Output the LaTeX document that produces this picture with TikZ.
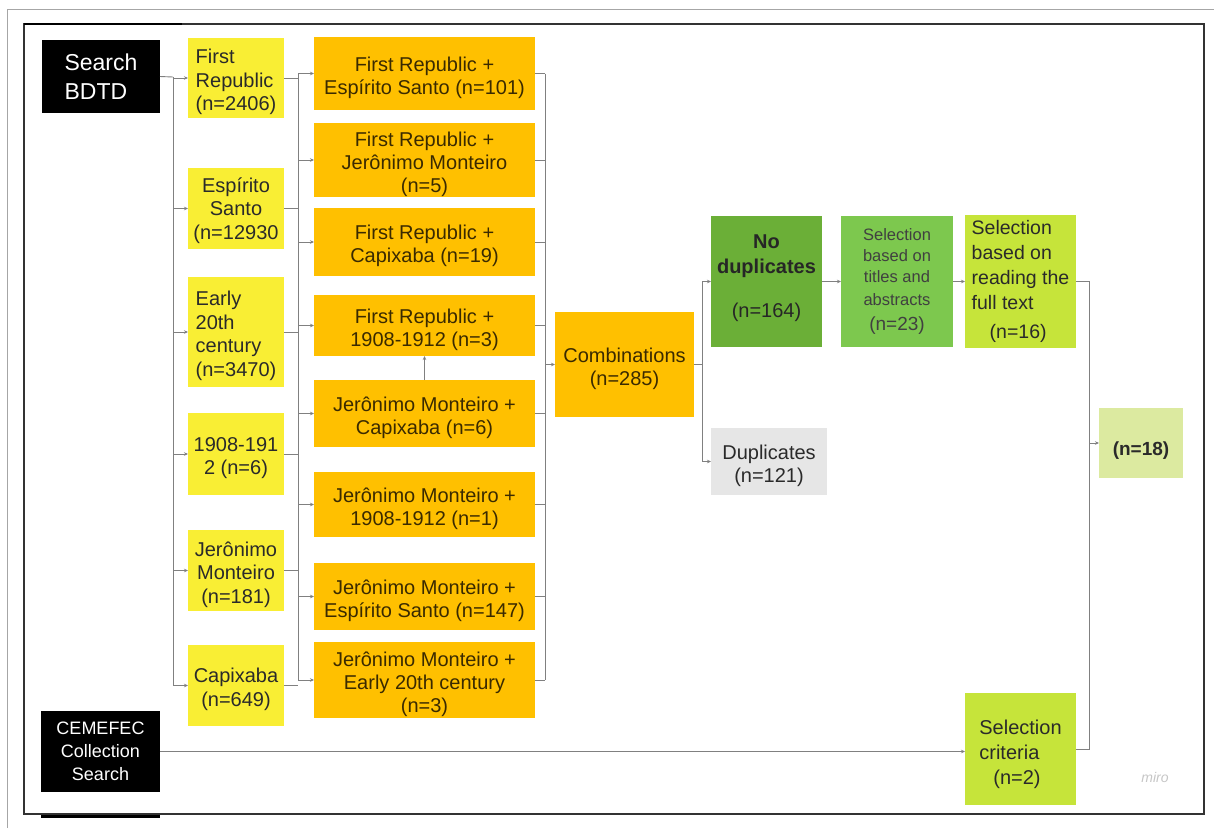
\documentclass[tikz,border=0pt]{standalone}
\usepackage{fontspec}
\setmainfont{Liberation Sans}
\usetikzlibrary{arrows.meta}
\definecolor{yel}{HTML}{F9EE34}
\definecolor{org}{HTML}{FFC000}
\definecolor{dgreen}{HTML}{6BAF37}
\definecolor{mgreen}{HTML}{7DC84E}
\definecolor{ygreen}{HTML}{C6E43A}
\definecolor{pgreen}{HTML}{DCEAA0}
\definecolor{lgray}{HTML}{E6E6E6}
\definecolor{ink}{HTML}{2A2A2A}
\definecolor{brown}{HTML}{3A2A00}
\definecolor{lin}{HTML}{808080}
\newcommand\lift[1][22.5pt]{\rule{0pt}{#1}}
\begin{document}
\begin{tikzpicture}[x=1pt,y=-1pt,
  box/.style={inner sep=0pt, outer sep=0pt, text=ink},
  blk/.style={box, fill=black, text=white},
  yb/.style={box, fill=yel, minimum width=96, font=\fontsize{20}{23.5}\selectfont},
  ob/.style={box, fill=org, text=brown, minimum width=221, align=center, font=\fontsize{20}{23}\selectfont},
  line/.style={draw=lin, line width=0.9pt},
  conn/.style={line, -{Stealth[length=4pt,width=3.5pt]}}]
\useasboundingbox (0,0) rectangle (1214,828);
% frames
\draw[gray!70, line width=1pt] (7,828) -- (7,9) -- (1214,9);
\draw[black!80, line width=1.3pt] (24,24) rectangle (1204,814);
\draw[black, line width=2.5pt] (24,24) -- (182,24);
\draw[black, line width=3pt] (41,816) -- (160,816);
% sources
\node[blk, minimum width=118, minimum height=73, align=left, font=\fontsize{23}{29}\selectfont] (sb) at (101,76.5) {Search\\BDTD};
\node[blk, minimum width=119, minimum height=81, align=center, font=\fontsize{18}{23}\selectfont] (cem) at (100.5,751.5) {CEMEFEC\\Collection\\Search};
% level 1
\node[yb, minimum height=80, align=left] (fr) at (236,78) {\lift First\\Republic\\(n=2406)};
\node[yb, minimum height=81, align=center] (es) at (236,208.5) {\lift[19pt]Espírito\\Santo\\(n=12930};
\node[yb, minimum height=110, align=left] (ea) at (236,332) {\lift Early\\20th\\century\\(n=3470)};
\node[yb, minimum height=82, align=center] (yr) at (236,454) {\lift 1908-191\\2 (n=6)};
\node[yb, minimum height=81, align=center] (jm) at (236,570.5) {\lift Jerônimo\\Monteiro\\(n=181)};
\node[yb, minimum height=81, align=center] (cp) at (236,685.5) {\lift Capixaba\\(n=649)};
% level 2
\node[ob, minimum height=73] (o1) at (424.5,73.5) {\lift First Republic +\\Espírito Santo (n=101)};
\node[ob, minimum height=74] (o2) at (424.5,160) {\lift First Republic +\\Jerônimo Monteiro\\(n=5)};
\node[ob, minimum height=68] (o3) at (424.5,242) {\lift First Republic +\\Capixaba (n=19)};
\node[ob, minimum height=61] (o4) at (424.5,325.5) {\lift First Republic +\\1908-1912 (n=3)};
\node[ob, minimum height=67] (o5) at (424.5,413.5) {\lift Jerônimo Monteiro +\\Capixaba (n=6)};
\node[ob, minimum height=65] (o6) at (424.5,504.5) {\lift Jerônimo Monteiro +\\1908-1912 (n=1)};
\node[ob, minimum height=67] (o7) at (424.5,596.5) {\lift Jerônimo Monteiro +\\Espírito Santo (n=147)};
\node[ob, minimum height=76] (o8) at (424.5,680) {\lift Jerônimo Monteiro +\\Early 20th century\\(n=3)};
% level 3+
\node[ob, minimum width=139, minimum height=105] (comb) at (624.5,364.5) {\lift Combinations\\(n=285)};
\node[box, fill=dgreen, text=black!85, minimum width=111, minimum height=131, align=center, font=\fontsize{20}{25}\selectfont] (nd) at (766.5,281.5) {\textbf{No}\\\textbf{duplicates}\\[19pt](n=164)\rule[-11pt]{0pt}{11pt}};
\node[box, fill=lgray, minimum width=116, minimum height=67, align=center, font=\fontsize{20}{23}\selectfont] (dup) at (769,461.5) {\lift Duplicates\\(n=121)};
\node[box, fill=mgreen, text=black!75, minimum width=112, minimum height=131, align=center, font=\fontsize{16.5}{21}\selectfont] (ta) at (897,281.5) {Selection\\based on\\titles and\\[2pt]abstracts\\[4pt]{\fontsize{19}{25}\selectfont (n=23)}};
\node[box, fill=ygreen, minimum width=111, minimum height=133, align=left, font=\fontsize{19.5}{25}\selectfont] (ft) at (1020.5,281.5) {Selection\\based on\\reading the\\full text\\[4pt]\hspace*{18pt}(n=16)};
\node[box, fill=pgreen, minimum width=84, minimum height=70, font=\bfseries\fontsize{19}{23}\selectfont] (n18) at (1141,443) {\lift[28pt](n=18)};
\node[box, fill=ygreen, minimum width=111, minimum height=112, align=left, font=\fontsize{20}{25}\selectfont] (cr) at (1020.5,749) {\lift[25pt]Selection\\criteria\\\hspace*{14pt}(n=2)};
\node[text=gray!45, font=\itshape\fontsize{14}{14}\selectfont] (miro) at (1155,777) {miro};
% trunk 1
\coordinate (t1) at (173,77);
\draw[line] (sb.east) -- (t1);
\draw[conn] (t1) |- (fr.west);
\foreach \n in {es,ea,yr,jm,cp} \draw[conn] (t1) |- (\n.west);
% trunk 2
\coordinate (t2a) at (298,73.5);
\coordinate (t2b) at (298,680);
\draw[line] (t2a) -- (t2b);
\foreach \n in {fr,es,ea,yr,jm,cp} \draw[line] (\n.east) -- (\n.east -| t2a);
\foreach \n in {o1,o2,o3,o4,o5,o6,o7,o8} \draw[conn] (\n.west -| t2a) -- (\n.west);
\draw[conn] (o5.north) -- (o4.south);
% trunk 3
\coordinate (t3a) at (545,73.5);
\coordinate (t3b) at (545,680);
\draw[line] (t3a) -- (t3b);
\foreach \n in {o1,o2,o3,o4,o5,o6,o7,o8} \draw[line] (\n.east) -- (\n.east -| t3a);
\draw[conn] (comb.west -| t3a) -- (comb.west);
% trunk 4
\coordinate (t4) at (702,364.5);
\draw[line] (comb.east) -- (t4);
\draw[conn] (t4) |- (nd.west);
\draw[conn] (t4) |- (dup.west);
% right chain
\draw[conn] (nd.east) -- (ta.west);
\draw[conn] (ta.east) -- (ft.west);
\coordinate (t5) at (1089,443);
\draw[line] (ft.east) -| (t5);
\draw[line] (cr.east) -| (t5);
\draw[conn] (t5) -- (n18.west);
\draw[conn] (cem.east) -- (cem.east -| cr.west);
\end{tikzpicture}
\end{document}
